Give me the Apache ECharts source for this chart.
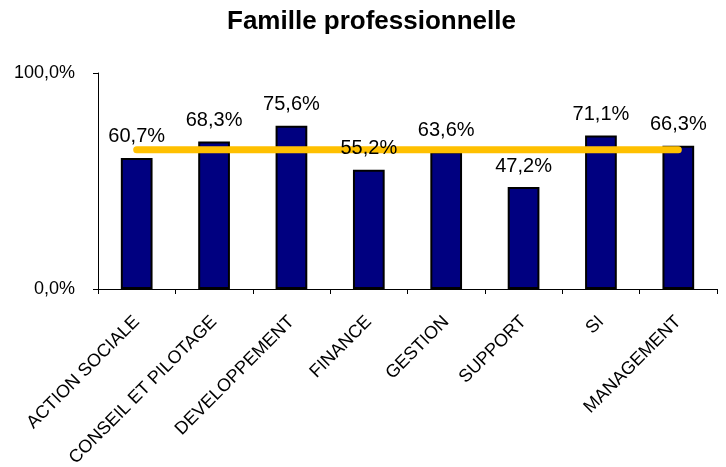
<!DOCTYPE html>
<html>
<head>
<meta charset="utf-8">
<script src="https://cdn.jsdelivr.net/npm/echarts@6/dist/echarts.min.js"></script>
<style>
  html, body { margin: 0; padding: 0; background: #fff; }
  #chart { width: 726px; height: 467px; }
</style>
</head>
<body>
<div id="chart"></div>
<script>
const categories = ['ACTION SOCIALE', 'CONSEIL ET PILOTAGE', 'DEVELOPPEMENT', 'FINANCE', 'GESTION', 'SUPPORT', 'SI', 'MANAGEMENT'];
const rates = [60.7, 68.3, 75.6, 55.2, 63.6, 47.2, 71.1, 66.3];
const average = [64.5, 64.5, 64.5, 64.5, 64.5, 64.5, 64.5, 64.5];

const font = '"Liberation Sans", Arial, sans-serif';
const pct = v => v.toFixed(1).replace('.', ',') + '%';

const chart = echarts.init(document.getElementById('chart'));

const option = {
  animation: false,
  title: {
    text: 'Famille professionnelle',
    left: 222,
    top: 4,
    textStyle: { fontFamily: font, fontSize: 26, fontWeight: 'bold', color: '#000' }
  },
  grid: { left: 98, right: 9, top: 73, bottom: 178, containLabel: false, outerBoundsMode: 'none' },
  xAxis: {
    type: 'category',
    data: categories,
    axisLine: { lineStyle: { color: '#000', width: 1 } },
    axisTick: { show: true, length: 5, lineStyle: { color: '#000' } },
    axisLabel: {
      interval: 0,
      rotate: 45,
      margin: 30,
      color: '#000',
      fontFamily: font,
      fontSize: 18
    }
  },
  yAxis: {
    type: 'value',
    min: 0,
    max: 100,
    interval: 100,
    axisLine: { show: true, lineStyle: { color: '#000', width: 1 } },
    axisTick: { show: true, length: 5, lineStyle: { color: '#000' } },
    splitLine: { show: false },
    axisLabel: {
      margin: 23,
      color: '#000',
      fontFamily: font,
      fontSize: 18,
      formatter: v => pct(v)
    }
  },
  series: [
    {
      name: 'taux',
      type: 'bar',
      data: rates,
      z: 2,
      barCategoryGap: '59%',
      barGap: '-100%',
      itemStyle: { color: '#000080', borderColor: '#000', borderWidth: 2 }
    },
    {
      name: 'moyenne',
      type: 'line',
      data: average,
      z: 3,
      symbol: 'none',
      lineStyle: { color: '#FFC000', width: 7, cap: 'round' }
    },
    {
      name: 'etiquettes',
      type: 'bar',
      data: rates,
      z: 4,
      barCategoryGap: '59%',
      barGap: '-100%',
      itemStyle: { color: 'rgba(0,0,0,0)' },
      label: {
        show: true,
        position: 'top',
        distance: 11,
        color: '#000',
        fontFamily: font,
        fontSize: 20,
        formatter: p => pct(p.value)
      }
    }
  ]
};

chart.setOption(option);
</script>
</body>
</html>
